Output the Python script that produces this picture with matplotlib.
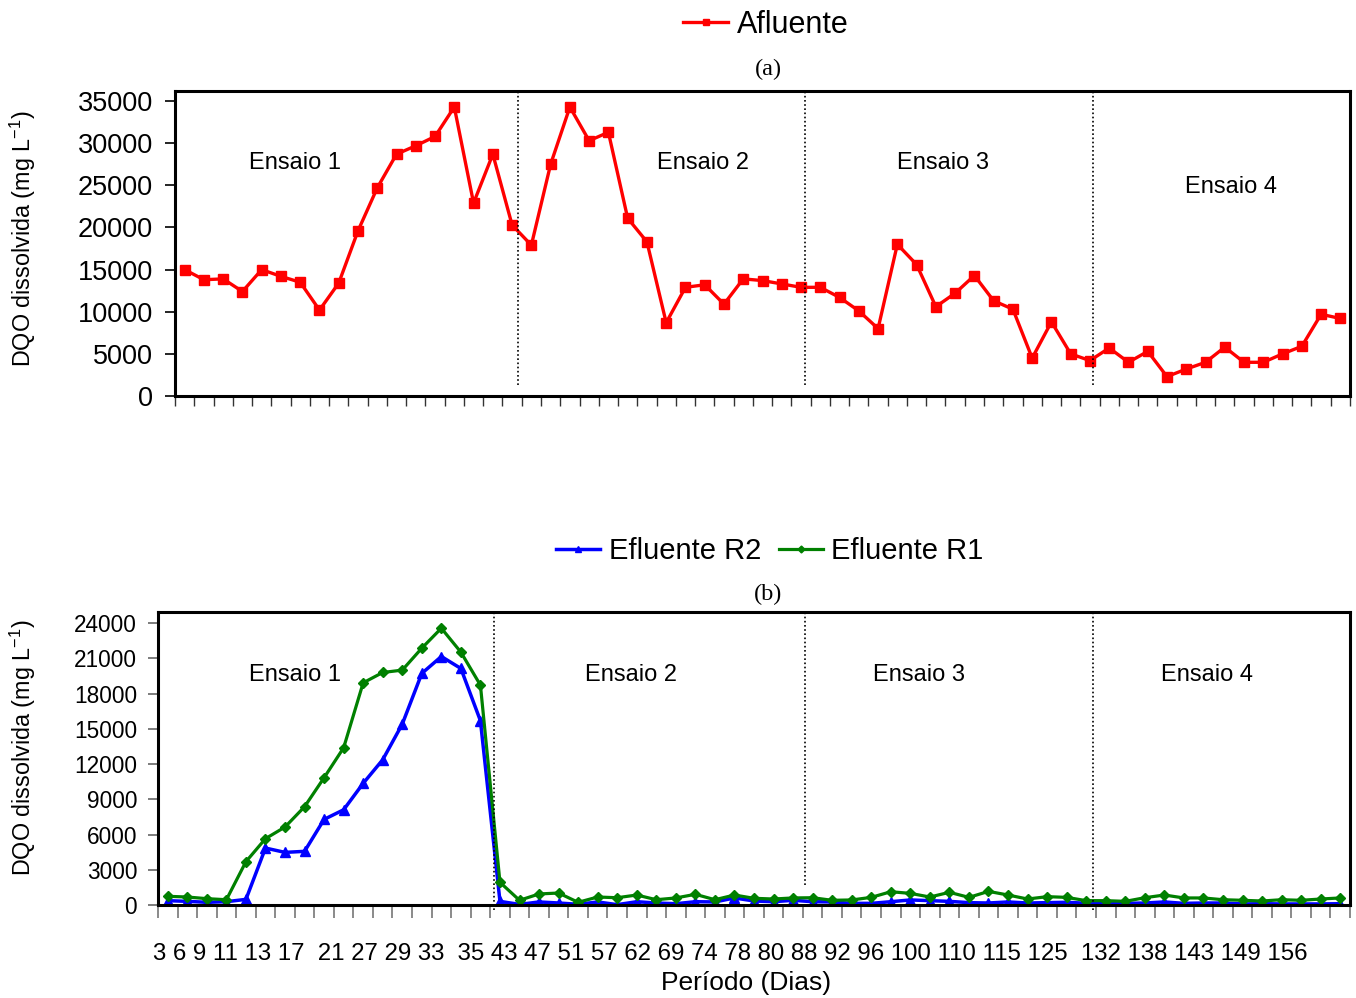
import matplotlib
matplotlib.use("Agg")
import matplotlib.pyplot as plt
import numpy as np

plt.rcParams['font.family'] = ['Liberation Sans', 'DejaVu Sans']
plt.rcParams['mathtext.default'] = 'regular'

# ---------------- data ----------------
afluente = [15000, 13800, 13900, 12400, 15000, 14200, 13500, 10200, 13400, 19600,
            24700, 28700, 29700, 30800, 34300, 22900, 28700, 20300, 17900, 27500,
            34300, 30300, 31300, 21100, 18300, 8700, 12900, 13200, 10900, 13900,
            13700, 13300, 12900, 12900, 11700, 10100, 8000, 18000, 15600, 10600,
            12200, 14300, 11300, 10300, 4500, 8800, 5000, 4200, 5700, 4000,
            5300, 2300, 3200, 4000, 5800, 4000, 4000, 5000, 5900, 9700, 9200]

efluente_r2 = [370, 310, 230, 280, 480, 4850, 4480, 4570, 7290, 8110,
               10360, 12370, 15400, 19720, 21160, 20140, 15690, 310, 50, 260,
               170, 60, 260, 30, 280, 170, 110, 280, 260, 600,
               340, 280, 400, 280, 260, 140, 140, 280, 430, 370,
               310, 200, 170, 260, 170, 200, 230, 150, 100, 140,
               170, 260, 140, 170, 170, 90, 110, 90, 90, 90, 110]

efluente_r1 = [740, 680, 540, 450, 3690, 5650, 6640, 8370, 10840, 13390,
               18920, 19800, 20000, 21870, 23570, 21530, 18720, 1930, 400, 940,
               1020, 230, 680, 620, 850, 450, 600, 910, 450, 850,
               570, 510, 600, 620, 400, 430, 650, 1130, 990, 680,
               1080, 650, 1160, 850, 510, 710, 650, 370, 370, 310,
               620, 850, 600, 600, 450, 400, 340, 450, 400, 510, 600]

day_label_groups = [["3", "6", "9", "11", "13", "17"],
                    ["21", "27", "29", "33"],
                    ["35", "43", "47", "51", "57", "62", "69", "74", "78", "80", "88",
                     "92", "96", "100", "110", "115", "125"],
                    ["132", "138", "143", "149", "156"]]

ensaio_labels = ["Ensaio 1", "Ensaio 2", "Ensaio 3", "Ensaio 4"]
yticks_top = [0, 5000, 10000, 15000, 20000, 25000, 30000, 35000]
yticks_bot = [0, 3000, 6000, 9000, 12000, 15000, 18000, 21000, 24000]

# ---------------- figure ----------------
W, H = 1356, 998
fig = plt.figure(figsize=(W / 100, H / 100), dpi=100)

def px_axes(l, t, r, b):
    return fig.add_axes([l / W, 1 - b / H, (r - l) / W, (b - t) / H])

n = len(afluente)
x = np.arange(n)

# ---------- top panel ----------
ax1 = px_axes(175, 91, 1350, 396)
ax1.plot(x, afluente, color='#FF0000', lw=2.4, marker='s', ms=6.5,
         label='Afluente')
ax1.set_xlim(-0.5, n - 0.5)
ax1.set_ylim(0, 36200)
ax1.set_yticks(yticks_top)
ax1.set_xticks(np.arange(-0.5, n, 1.0))
ax1.set_xticklabels([])
ax1.tick_params(axis='y', direction='out', length=7, width=1.2,
                labelsize=19.5, pad=9)
ax1.tick_params(axis='x', direction='out', length=7, width=1.0, color='#333333')
for s in ax1.spines.values():
    s.set_linewidth(2.2)

div_top = [17.3, 32.2, 47.15]
for d in div_top:
    ax1.plot([d, d], [1300, 36200], ls=(0, (1, 1.5)), color='black', lw=1.2)

top_lbl_pos = [(295, 163), (703, 163), (943, 163), (1231, 187)]
for lbl, (px, py) in zip(ensaio_labels, top_lbl_pos):
    fig.text(px / W, 1 - py / H, lbl, fontsize=17, ha='center', va='center')

fig.legend(handles=ax1.get_lines()[:1], loc='center',
           bbox_to_anchor=(766 / W, 1 - 25 / H), frameon=False,
           fontsize=22, handlelength=1.45, handletextpad=0.3,
           markerscale=0.75)
fig.text(768 / W, 1 - 69 / H, '(a)', fontsize=17.5, ha='center', va='center',
         family=['Liberation Serif', 'DejaVu Serif'])

# ---------- bottom panel ----------
ax2 = px_axes(158, 612, 1350, 905)
l2, = ax2.plot(x, efluente_r2, color='#0000FF', lw=2.5, marker='^', ms=6.5,
               label='Efluente R2')
l1, = ax2.plot(x, efluente_r1, color='#008000', lw=2.3, marker='D', ms=5,
               label='Efluente R1')
ax2.set_xlim(-0.5, n - 0.5)
ax2.set_ylim(0, 24950)
ax2.set_yticks(yticks_bot)
ax2.set_xticks(np.arange(-0.5, n, 1.0))
ax2.set_xticklabels([])
ax2.tick_params(axis='y', direction='out', length=7, width=1.2,
                labelsize=16.3, pad=8, color='#666666')
ax2.tick_params(axis='x', direction='out', length=9, width=1.2, color='#777777')
for s in ax2.spines.values():
    s.set_linewidth(2.2)

div_bot = [16.7, 32.6, 47.35]
div_bot_low = [-450, 1700, -450]
for d, lo in zip(div_bot, div_bot_low):
    ax2.plot([d, d], [lo, 24950], ls=(0, (1, 1.5)), color='black', lw=1.2,
             clip_on=False)

bot_lbl_pos = [(295, 675), (631, 675), (919, 675), (1207, 675)]
for lbl, (px, py) in zip(ensaio_labels, bot_lbl_pos):
    fig.text(px / W, 1 - py / H, lbl, fontsize=17, ha='center', va='center')

fig.legend(handles=[l2, l1], loc='center', ncol=2,
           bbox_to_anchor=(770 / W, 1 - 551 / H), frameon=False,
           fontsize=21, handlelength=1.5, handletextpad=0.3,
           columnspacing=0.6, markerscale=0.7)
fig.text(768 / W, 1 - 594 / H, '(b)', fontsize=17.5, ha='center', va='center',
         family=['Liberation Serif', 'DejaVu Serif'])

# y labels
ylab = 'DQO dissolvida (mg L$^{-1}$)'
fig.text(23 / W, 1 - 239 / H, ylab, rotation=90, fontsize=16.8, ha='center',
         va='center')
fig.text(23 / W, 1 - 748 / H, ylab, rotation=90, fontsize=16.8, ha='center',
         va='center')

# x day labels row and axis title
day_text = "  ".join(" ".join(g) for g in day_label_groups)
fig.text(153 / W, 1 - 954 / H, day_text, fontsize=17.3, ha='left', va='center')
fig.text(746 / W, 1 - 983 / H, 'Período (Dias)', fontsize=19, ha='center',
         va='center')

fig.savefig('out.png', dpi=100)
